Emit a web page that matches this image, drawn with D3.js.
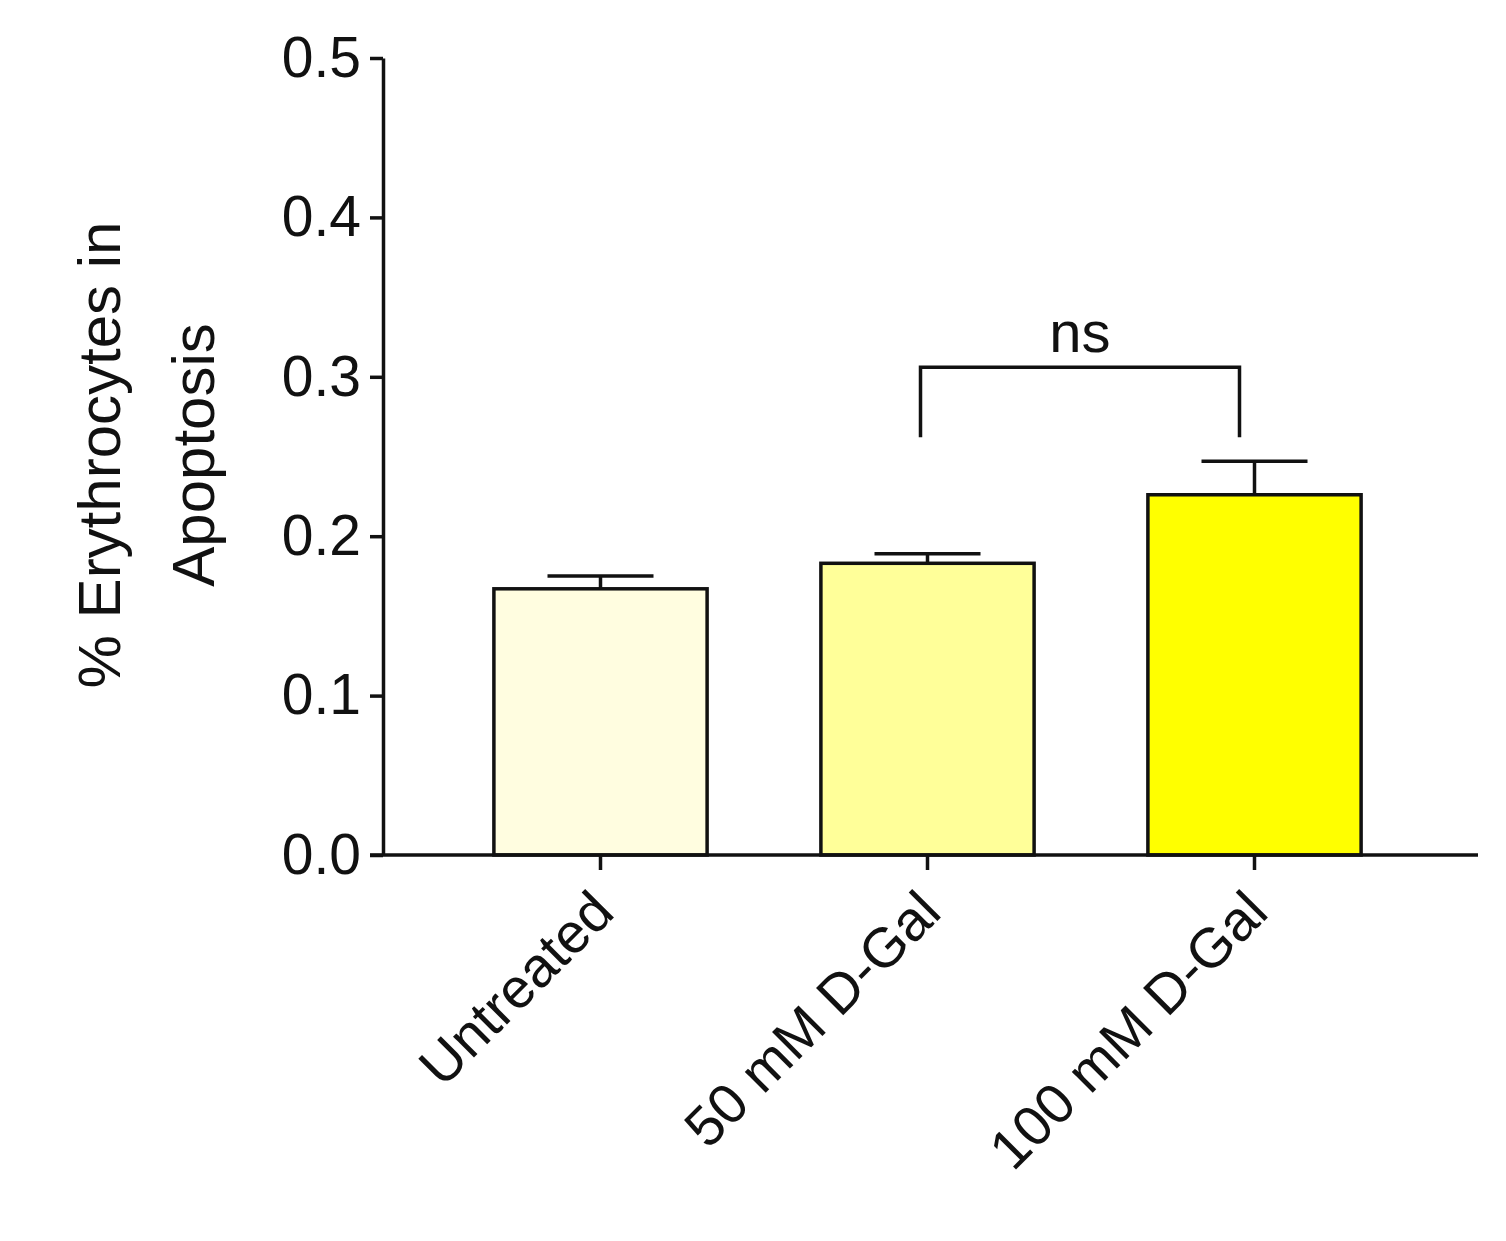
<!DOCTYPE html>
<html><head><meta charset="utf-8">
<script src="https://cdn.jsdelivr.net/npm/d3@7"></script>
<style>body{margin:0;background:#fff}</style></head>
<body><svg id="c" width="1506" height="1241"></svg>
<script>
const categories = ["Untreated", "50 mM D-Gal", "100 mM D-Gal"];
const means = [0.167, 0.183, 0.226];
const errors = [0.008, 0.006, 0.021];
const colors = ["#FFFDE0", "#FFFF99", "#FFFF00"];
const yTicks = [0, 0.1, 0.2, 0.3, 0.4, 0.5];

const svg = d3.select("#c");
const font = "Arial, 'Liberation Sans', sans-serif";
const y = d3.scaleLinear().domain([0, 0.5]).range([855, 58]);
const x = d3.scaleBand().domain(categories).range([437, 1418]).paddingInner(0.348).paddingOuter(0.174);

svg.selectAll("rect.bar").data(categories).enter().append("rect")
  .attr("x", d => x(d)).attr("width", x.bandwidth())
  .attr("y", (d,i) => y(means[i])).attr("height", (d,i) => y(0) - y(means[i]))
  .attr("fill", (d,i) => colors[i]).attr("stroke", "#111").attr("stroke-width", 3.5);
categories.forEach((d,i) => {
  const cx = x(d) + x.bandwidth()/2;
  svg.append("line").attr("x1", cx).attr("x2", cx).attr("y1", y(means[i])).attr("y2", y(means[i]+errors[i])).attr("stroke","#111").attr("stroke-width",3.5);
  svg.append("line").attr("x1", cx-53).attr("x2", cx+53).attr("y1", y(means[i]+errors[i])).attr("y2", y(means[i]+errors[i])).attr("stroke","#111").attr("stroke-width",3.5);
});

const ya = svg.append("g").attr("transform","translate(383,0)")
  .call(d3.axisLeft(y).tickValues(yTicks).tickFormat(d3.format(".1f")).tickSize(13).tickSizeOuter(0));
ya.select(".domain").attr("stroke","#111").attr("stroke-width",3.5);
ya.selectAll(".tick line").attr("stroke","#111").attr("stroke-width",3.5);
ya.selectAll("text").attr("font-family",font).attr("font-size",57).attr("fill","#111").attr("x",-22);

const xa = svg.append("g").attr("transform","translate(0,855)")
  .call(d3.axisBottom(x).tickSize(15).tickSizeOuter(0));
xa.select(".domain").attr("d","M370,0H1478").attr("stroke","#111").attr("stroke-width",3.5);
xa.selectAll(".tick line").attr("stroke","#111").attr("stroke-width",3.5);
xa.selectAll("text").attr("font-family",font).attr("font-size",56).attr("fill","#111")
  .attr("text-anchor","end").attr("dy",0).attr("y",0)
  .attr("transform","translate(16,60) rotate(-45)");

const yl = svg.append("text").attr("transform","translate(0,455) rotate(-90)")
  .attr("text-anchor","middle").attr("font-family",font).attr("font-size",60).attr("fill","#111");
yl.append("tspan").attr("x",0).attr("y",120).text("% Erythrocytes in");
yl.append("tspan").attr("x",0).attr("y",214).text("Apoptosis");

const x1 = x(categories[1]) + x.bandwidth()/2 - 7, x2 = x(categories[2]) + x.bandwidth()/2 - 15;
svg.append("path").attr("d",`M${x1},${y(0.262)}V${y(0.306)}H${x2}V${y(0.262)}`)
  .attr("fill","none").attr("stroke","#111").attr("stroke-width",3.5);
svg.append("text").attr("x",(x1+x2)/2).attr("y",352).attr("text-anchor","middle")
  .attr("font-family",font).attr("font-size",58).attr("fill","#111").text("ns");
</script></body></html>
